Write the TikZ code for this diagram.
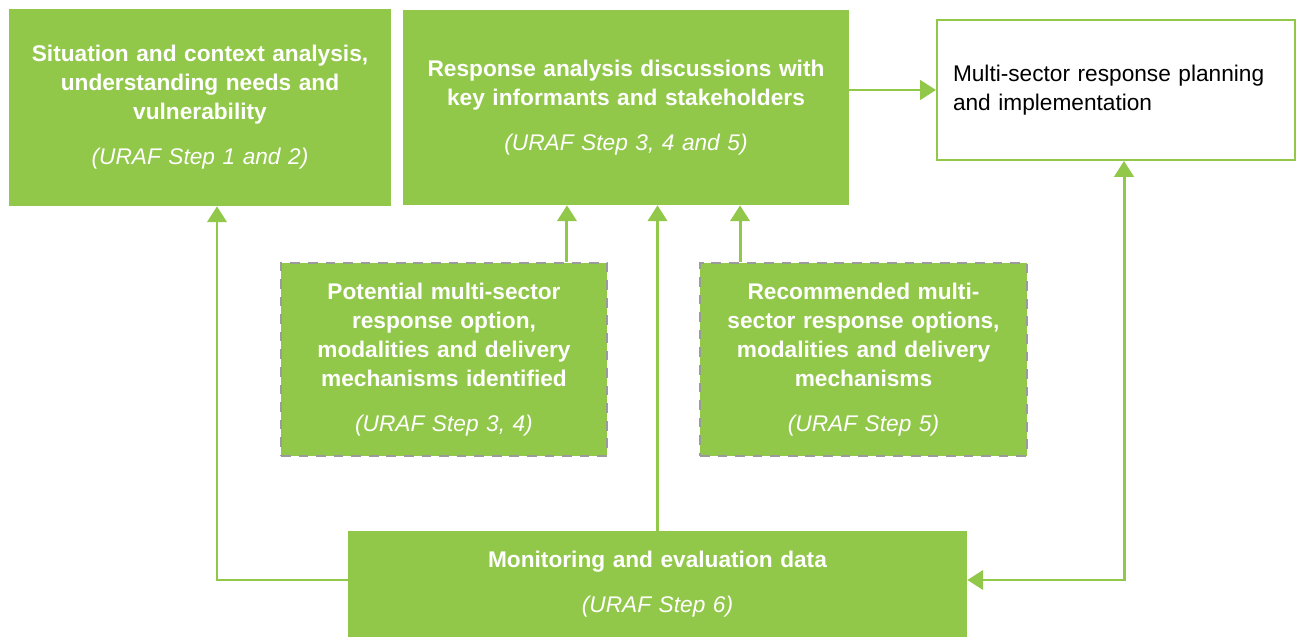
\documentclass[tikz,border=0pt]{standalone}
\usepackage{fontspec}
\setmainfont{Liberation Sans}
\usetikzlibrary{positioning,arrows.meta}
\definecolor{leaf}{HTML}{92C84A}
\definecolor{dashgray}{HTML}{9B9B9B}
\tikzset{
  greenbox/.style={fill=leaf, text=white, align=center, inner sep=0pt,
    font=\fontsize{12.9}{16.5}\selectfont},
  optionbox/.style={greenbox, draw=dashgray, line width=1.1pt, dash pattern=on 5.5pt off 4.5pt},
  arr/.style={draw=leaf, line width=1.7pt, -{Triangle[width=11pt,length=9pt]}},
}

\begin{document}
\begin{tikzpicture}
\useasboundingbox (0,0) rectangle (26,-12.74);
\node[greenbox, minimum width=7.64cm, minimum height=3.94cm, text width=7.2cm](situation) at (4.0,-2.15) {\bfseries Situation and context analysis,\\ understanding needs and\\ vulnerability\\[9pt] \mdseries\itshape (URAF Step 1 and 2)};
\node[greenbox, minimum width=8.92cm, minimum height=3.9cm, text width=8.4cm](discussion) at (12.52,-2.15) {\bfseries Response analysis discussions with\\ key informants and stakeholders\\[9pt] \mdseries\itshape (URAF Step 3, 4 and 5)};
\node[draw=leaf, line width=1.1pt, fill=white, align=left, text width=6.52cm, inner xsep=0.32cm, inner ysep=0pt, minimum height=2.8cm, font=\fontsize{12.9}{16.5}\selectfont](planning) at (22.32,-1.8) {Multi-sector response planning\\ and implementation};
\node[optionbox, minimum width=6.52cm, minimum height=3.86cm, text width=6.2cm](potential) at (8.88,-7.19) {\bfseries Potential multi-sector\\ response option,\\ modalities and delivery\\ mechanisms identified\\[9pt] \mdseries\itshape (URAF Step 3, 4)};
\node[optionbox, minimum width=6.54cm, minimum height=3.86cm, text width=6.2cm](recommended) at (17.27,-7.19) {\bfseries Recommended multi-\\ sector response options,\\ modalities and delivery\\ mechanisms\\[9pt] \mdseries\itshape (URAF Step 5)};
\node[greenbox, minimum width=12.38cm, minimum height=2.12cm, text width=12cm](monitoring) at (13.15,-11.68) {\bfseries Monitoring and evaluation data\\[9pt] \mdseries\itshape (URAF Step 6)};

\draw[arr] (discussion.east |- planning.west) -- (planning.west);
\draw[arr] ([xshift=-0.82cm]potential.north east) -- ([xshift=-0.82cm]potential.north east |- discussion.south);
\draw[arr] ([xshift=0.82cm]recommended.north west) -- ([xshift=0.82cm]recommended.north west |- discussion.south);
\draw[arr] (monitoring.north) -- (monitoring.north |- discussion.south);
\draw[arr] ([yshift=0.08cm]monitoring.west) -| ([xshift=0.34cm]situation.south);
\draw[arr, {Triangle[width=11pt,length=9pt]}-{Triangle[width=11pt,length=9pt]}] ([yshift=0.08cm]monitoring.east) -| ([xshift=0.16cm]planning.south);
\end{tikzpicture}
\end{document}
